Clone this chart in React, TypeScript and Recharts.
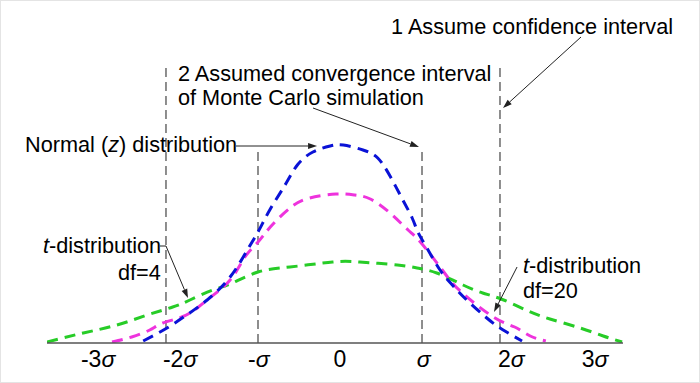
import { LineChart, Line, XAxis, YAxis, ReferenceLine, ReferenceDot } from "recharts";

// x in units of sigma, y in density units
const BLUE_X = [-2.4, -2.11, -1.87, -1.62, -1.34, -1.13, -1.0, -0.85, -0.67, -0.52, -0.33, -0.12, 0.04, 0.28, 0.46, 0.61, 0.76, 0.88, 0.95, 1.06, 1.22, 1.37, 1.52, 1.79, 1.99, 2.22];
const BLUE_Y = [0.004, 0.03, 0.056, 0.086, 0.132, 0.186, 0.222, 0.268, 0.316, 0.356, 0.382, 0.394, 0.396, 0.386, 0.37, 0.334, 0.288, 0.25, 0.222, 0.19, 0.146, 0.116, 0.09, 0.05, 0.026, 0.004];

const PINK_X = [-2.78, -2.54, -2.32, -2.16, -1.93, -1.74, -1.59, -1.34, -1.16, -1.01, -0.85, -0.61, -0.37, -0.05, 0.18, 0.37, 0.61, 0.83, 0.98, 1.22, 1.34, 1.52, 1.89, 2.13, 2.32, 2.51];
const PINK_Y = [0.002, 0.012, 0.026, 0.04, 0.052, 0.07, 0.09, 0.126, 0.172, 0.2, 0.232, 0.27, 0.29, 0.298, 0.296, 0.288, 0.26, 0.226, 0.202, 0.152, 0.126, 0.096, 0.05, 0.032, 0.014, 0.004];

const GREEN_X = [-3.573, -3.13, -2.72, -2.35, -2.04, -1.83, -1.55, -1.34, -1.0, -0.61, -0.09, 0.24, 0.7, 0.94, 1.18, 1.5, 1.74, 1.98, 2.28, 2.56, 2.93, 3.21, 3.44];
const GREEN_Y = [0.002, 0.02, 0.036, 0.056, 0.072, 0.086, 0.106, 0.118, 0.142, 0.152, 0.162, 0.162, 0.156, 0.15, 0.14, 0.116, 0.1, 0.087, 0.065, 0.048, 0.03, 0.014, 0.002];

const TICK_POS = [-2.95, -1.95, -0.99, 0, 1.02, 2.09, 3.11];
const TICK_LABELS = ["-3σ", "-2σ", "-σ", "0", "σ", "2σ", "3σ"];

// dashed interval guides
const GUIDE_X = [-2.122, -1.0, 1.0, 1.951];
const GUIDE_TOP = [0.56, 0.39, 0.39, 0.56];

type Part = { t: string; i?: boolean };
const NOTES: { x: number; y: number; parts: Part[] }[] = [
  { x: 0.622, y: 0.618, parts: [{ t: "1 Assume confidence interval" }] },
  { x: -1.976, y: 0.524, parts: [{ t: "2 Assumed convergence interval" }] },
  { x: -1.976, y: 0.476, parts: [{ t: "of Monte Carlo simulation" }] },
  { x: -3.841, y: 0.382, parts: [{ t: "Normal (" }, { t: "z", i: true }, { t: ") distribution" }] },
  { x: -3.622, y: 0.18, parts: [{ t: "t", i: true }, { t: "-distribution" }] },
  { x: -2.707, y: 0.126, parts: [{ t: "df=4" }] },
  { x: 2.232, y: 0.14, parts: [{ t: "t", i: true }, { t: "-distribution" }] },
  { x: 2.232, y: 0.09, parts: [{ t: "df=20" }] },
];

const LEADERS: { from: [number, number]; to: [number, number]; head: boolean }[] = [
  { from: [2.939, 0.612], to: [1.988, 0.47], head: true },
  { from: [-0.329, 0.47], to: [0.963, 0.392], head: true },
  { from: [-1.268, 0.394], to: [-0.28, 0.394], head: true },
  { from: [-2.195, 0.194], to: [-2.122, 0.194], head: false },
  { from: [-2.122, 0.194], to: [-1.854, 0.09], head: true },
  { from: [2.159, 0.152], to: [1.878, 0.062], head: true },
];

const FONT = "'Liberation Sans', Arial, sans-serif";

const toPoints = (xs: number[], ys: number[]) => xs.map((x, i) => ({ x, y: ys[i] }));

function Leader(p: any) {
  const { x1, y1, x2, y2, head } = p;
  if (!head) return <line x1={x1} y1={y1} x2={x2} y2={y2} stroke="#222" strokeWidth={1} />;
  const a = Math.atan2(y2 - y1, x2 - x1);
  const len = 9;
  const half = 3;
  const bx = x2 - len * Math.cos(a);
  const by = y2 - len * Math.sin(a);
  const pts = `${x2},${y2} ${bx - half * Math.sin(a)},${by + half * Math.cos(a)} ${bx + half * Math.sin(a)},${by - half * Math.cos(a)}`;
  return (
    <g>
      <line x1={x1} y1={y1} x2={bx} y2={by} stroke="#222" strokeWidth={1} />
      <polygon points={pts} fill="#222" />
    </g>
  );
}

function SigmaTick(p: any) {
  const { x, y, payload } = p;
  const label = TICK_LABELS[TICK_POS.indexOf(payload.value)] ?? "";
  const hasSigma = label.endsWith("σ");
  const head = hasSigma ? label.slice(0, -1) : label;
  return (
    <text x={x} y={y} dy="0.71em" textAnchor="middle" fontSize={23} fontFamily={FONT} fill="#000">
      {head}
      {hasSigma && <tspan fontStyle="italic">σ</tspan>}
    </text>
  );
}

export default function App() {
  return (
    <div style={{ position: "relative", width: 700, height: 383, background: "#fff" }}>
      <style>{"body{margin:0}"}</style>
      <LineChart width={700} height={383} margin={{ top: 8, right: 77, bottom: 8, left: 47 }}>
        <XAxis
          type="number"
          dataKey="x"
          domain={[-3.573, 3.451]}
          allowDataOverflow
          ticks={TICK_POS}
          interval={0}
          tickLine={false}
          tick={<SigmaTick />}
          height={32}
          axisLine={{ stroke: "#555", strokeWidth: 1.5 }}
        />
        <YAxis type="number" domain={[0, 0.67]} allowDataOverflow hide width={0} />

        {GUIDE_X.map((gx, i) => (
          <ReferenceLine
            key={`g${i}`}
            segment={[{ x: gx, y: 0 }, { x: gx, y: GUIDE_TOP[i] }]}
            stroke="#444"
            strokeWidth={1.2}
            strokeDasharray="9 5"
            ifOverflow="visible"
          />
        ))}

        <Line data={toPoints(GREEN_X, GREEN_Y)} dataKey="y" type="natural" stroke="#27cc27" strokeWidth={3} strokeDasharray="11 7" dot={false} isAnimationActive={false} />
        <Line data={toPoints(PINK_X, PINK_Y)} dataKey="y" type="natural" stroke="#ee33dd" strokeWidth={3} strokeDasharray="11 7" dot={false} isAnimationActive={false} />
        <Line data={toPoints(BLUE_X, BLUE_Y)} dataKey="y" type="natural" stroke="#0a12d6" strokeWidth={3} strokeDasharray="11 7" dot={false} isAnimationActive={false} />

        {LEADERS.map((l, i) => (
          <ReferenceLine
            key={`l${i}`}
            segment={[{ x: l.from[0], y: l.from[1] }, { x: l.to[0], y: l.to[1] }]}
            ifOverflow="visible"
            shape={(p: any) => <Leader {...p} head={l.head} />}
          />
        ))}

        {NOTES.map((n, i) => (
          <ReferenceDot
            key={`n${i}`}
            x={n.x}
            y={n.y}
            r={0}
            ifOverflow="visible"
            shape={(p: any) => (
              <text x={p.cx} y={p.cy} fontSize={21.7} fontFamily={FONT} fill="#000">
                {n.parts.map((pt, j) => (
                  <tspan key={j} fontStyle={pt.i ? "italic" : "normal"}>
                    {pt.t}
                  </tspan>
                ))}
              </text>
            )}
          />
        ))}
      </LineChart>
      <div
        style={{
          position: "absolute",
          inset: 0,
          border: "1px solid #e4e4e4",
          pointerEvents: "none",
        }}
      />
    </div>
  );
}
